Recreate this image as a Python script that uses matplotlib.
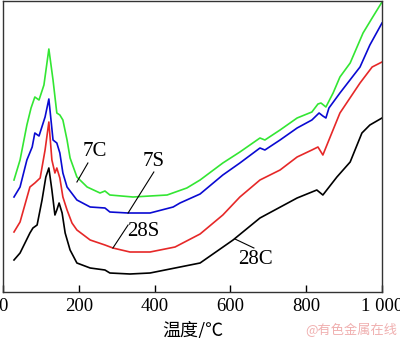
import matplotlib
matplotlib.use("Agg")
import matplotlib.pyplot as plt

# Temperature (°C) and signal (arbitrary units)
t_7c = [29, 45, 63, 74, 84, 95, 108, 121, 132, 142, 150, 158, 169, 177, 195, 222, 256, 269, 282, 343, 433, 485, 520, 580, 625, 678, 691, 731, 776, 815, 831, 839, 852, 871, 889, 916, 950, 974, 1000]
y_7c = [112, 132, 167, 184, 195, 192, 207, 243, 212, 179, 177, 172, 152, 134, 115, 105, 99, 101, 97, 95, 97, 104, 112, 129, 140, 154, 152, 162, 174, 180, 188, 189, 185, 199, 215, 229, 259, 274, 290]

t_7s = [29, 45, 63, 77, 84, 95, 111, 121, 132, 142, 150, 158, 169, 195, 230, 269, 282, 330, 388, 449, 467, 520, 580, 625, 678, 691, 731, 776, 815, 834, 844, 852, 860, 889, 942, 968, 1000]
y_7s = [95, 105, 132, 145, 159, 156, 175, 193, 152, 149, 139, 119, 105, 92, 85, 84, 80, 79, 79, 85, 89, 98, 117, 129, 144, 142, 152, 164, 172, 179, 176, 174, 184, 199, 225, 247, 269]

t_28s = [29, 45, 71, 84, 98, 111, 121, 129, 137, 142, 150, 158, 169, 182, 195, 230, 269, 290, 335, 388, 454, 520, 580, 625, 678, 731, 776, 815, 831, 844, 860, 889, 942, 974, 1000]
y_28s = [60, 70, 105, 109, 114, 142, 170, 132, 119, 124, 114, 95, 82, 69, 62, 52, 47, 44, 40, 40, 45, 58, 77, 95, 112, 122, 135, 142, 145, 137, 152, 179, 209, 225, 230]

t_28c = [29, 45, 71, 79, 90, 103, 113, 121, 129, 137, 142, 148, 156, 164, 177, 195, 230, 269, 282, 335, 388, 454, 520, 607, 678, 776, 828, 844, 881, 916, 947, 968, 1000]
y_28c = [32, 39, 59, 64, 67, 92, 115, 124, 102, 77, 82, 89, 79, 59, 42, 29, 24, 22, 19, 18, 19, 24, 29, 52, 74, 94, 102, 97, 115, 130, 159, 167, 174]

x_ticks = [0, 200, 400, 600, 800, 1000]
x_tick_labels = ["0", "200", "400", "600", "800", "1 000"]

serif = ["Liberation Serif", "DejaVu Serif"]
cjk = ["Noto Sans CJK SC", "DejaVu Sans"]

fig = plt.figure(figsize=(4.0, 3.38), dpi=100)
ax = fig.add_axes([3 / 400, (338 - 292) / 338, 379 / 400, 291 / 338])

ax.plot(t_7c, y_7c, color="#33e633", lw=1.2)
ax.plot(t_7s, y_7s, color="#0a0ad2", lw=1.2)
ax.plot(t_28s, y_28s, color="#e62828", lw=1.2)
ax.plot(t_28c, y_28c, color="black", lw=1.2)

ax.set_xlim(0, 1000)
ax.set_ylim(0, 291)
ax.set_yticks([])
ax.set_xticks(x_ticks)
ax.set_xticklabels(x_tick_labels, fontfamily=serif, fontsize=13.5)
ax.tick_params(axis="x", direction="in", length=5, width=1, pad=4)
for s in ax.spines.values():
    s.set_color("#333333")
    s.set_linewidth(1)

# annotations
def label(text, tx, ty, x0, y0, x1, y1):
    ax.plot([x0, x1], [y0, y1], color="black", lw=0.8)
    ax.text(tx, ty, text, fontfamily=serif, fontsize=15, ha="center", va="center")

label("7C", 243, 141, 224, 129, 195, 110)
label("7S", 398, 130, 398, 120, 330, 79)
label("28S", 369, 61, 330, 67, 290, 44)
label("28C", 665, 33, 662, 44, 612, 53)

fig.text(193 / 400, 1 - 330 / 338, "温度/℃", fontfamily=cjk, fontsize=13, ha="center", va="center")
fig.text(351 / 400, 1 - 330 / 338, "@有色金属在线", fontfamily=cjk, fontsize=9.5,
         color="#f0b0b0", ha="center", va="center")

fig.savefig("out.png", dpi=100)
